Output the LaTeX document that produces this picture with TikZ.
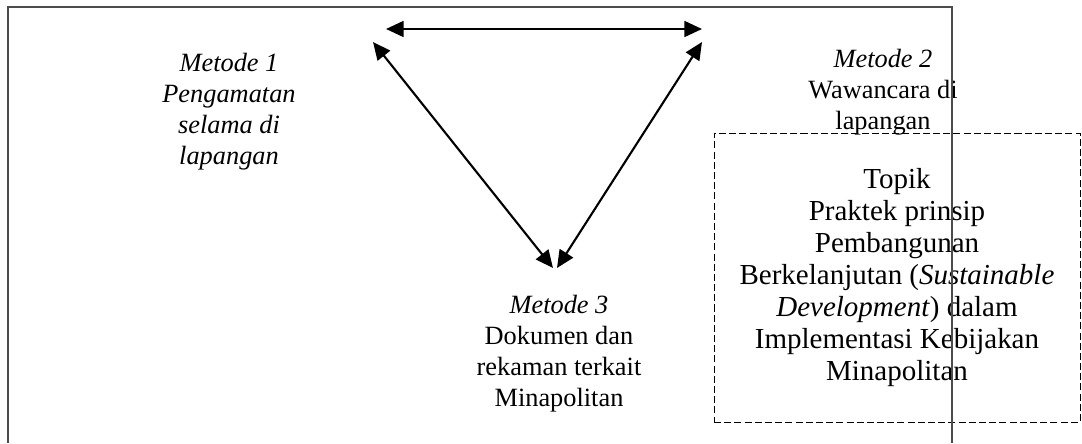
\documentclass[tikz,border=0pt]{standalone}
\usepackage{fontspec}
\setmainfont{Liberation Serif}
\usetikzlibrary{arrows.meta}

\begin{document}
\begin{tikzpicture}[x=0.02cm, y=-0.02cm,
  mtext/.style={align=center, inner sep=0pt, font=\fontsize{15}{17.6}\selectfont},
  ttext/.style={draw, dashed, dash pattern=on 4pt off 1.8pt, line width=0.5pt,
                minimum width=7.32cm, minimum height=5.78cm, align=center,
                font=\fontsize{16.5}{18.2}\selectfont},
  link/.style={line width=1.2pt, {Triangle[length=10pt,width=9pt]}-{Triangle[length=10pt,width=9pt]}},
  frame/.style={draw=black!70, line width=0.9pt}
]
  \useasboundingbox (0,0) rectangle (1082,443);

  % Metode nodes
  \node[mtext, font=\fontsize{15}{17.6}\selectfont\itshape] (m1) at (229,112)
    {Metode 1\\Pengamatan\\selama di\\lapangan};
  \node[mtext] (m2) at (883,92) {\textit{Metode 2}\\Wawancara di\\lapangan};
  \node[mtext] (m3) at (559,354)
    {\textit{Metode 3}\\Dokumen dan\\rekaman terkait\\Minapolitan};

  % Topik
  \node[ttext] (topik) at (897,277.5)
    {Topik\\Praktek prinsip\\Pembangunan\\Berkelanjutan (\textit{Sustainable}\\
     \textit{Development}) dalam\\Implementasi Kebijakan\\Minapolitan};

  % triangle of arrows
  \coordinate (t1) at (386,29);
  \coordinate (t2) at (702,29);
  \coordinate (l1) at (373,42);
  \coordinate (l2) at (553,268);
  \coordinate (r1) at (702,42);
  \coordinate (r2) at (557,268);
  \draw[link] (t1) -- (t2);
  \draw[link] (l1) -- (l2);
  \draw[link] (r2) -- (r1);

  % frame
  \draw[frame] (8,443) -- (8,7) -- (952,7) -- (952,443);
\end{tikzpicture}
\end{document}
